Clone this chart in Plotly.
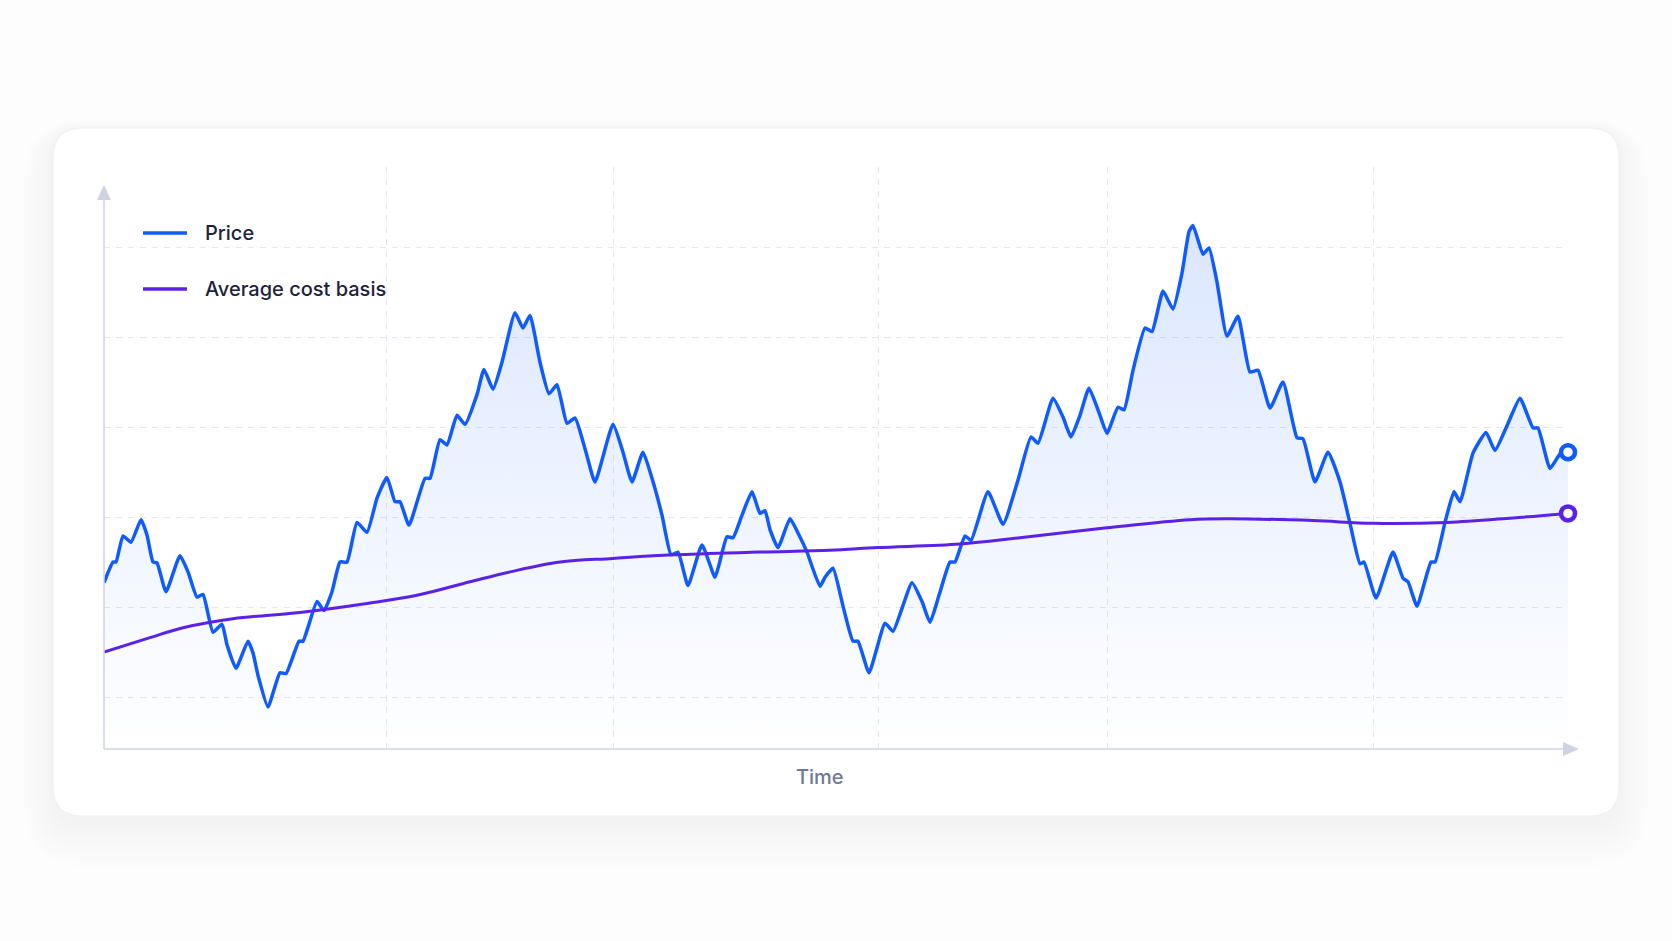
import plotly.graph_objects as go

# price path (day of year, price)
days = [0, 2.25, 3, 4.75, 6.75, 9.25, 10.75, 12.25, 13.25, 15.5,
        19, 21, 23.25, 24.75, 27.25, 29.5, 30.75, 33, 36, 37.25,
        38.5, 41, 44, 45.5, 48.75, 49.75, 53.25, 55, 57, 59,
        60.75, 63.25, 65.75, 68.25, 70.75, 72.75, 74, 76.25, 80.25, 81.5,
        84, 85.75, 88.25, 90.25, 93.25, 95, 97.25, 99.5, 102.75, 104.75,
        106.5, 109, 111.25, 113.25, 115.75, 117.75, 120.5, 122.75, 127.25, 129.75,
        132, 134.75, 137, 139.5, 141.75, 143.5, 146, 149.5, 152.75, 153.75,
        155.75, 157.25, 159.5, 162, 164, 165.25, 166.5, 168.5, 171.5, 173.75,
        175.75, 179, 180.25, 182.25, 184.75, 187.25, 188.5, 191.25, 195.25, 197.25,
        202, 204.5, 206.5, 208.75, 211.5, 212.75, 215.25, 216.75, 221, 224.75,
        228.5, 231.75, 233.5, 237.25, 239.75, 241.75, 244, 246.25, 249, 250.75,
        253.5, 255, 257.25, 260.25, 262, 264.75, 267.25, 269.5, 271.25, 272.25,
        274.75, 276.25, 278.25, 280.75, 283.5, 286.5, 288.5, 291.5, 294.75, 298.25,
        299.75, 302.75, 306, 309, 311.5, 314, 315, 318, 322.25, 324.75,
        326, 328.25, 331.75, 332.75, 335.25, 337.5, 339, 342.25, 345.5, 347.75,
        351, 354, 357.25, 358.5, 361.5, 364, 366]

price = [22.7, 25.0, 25.0, 27.9, 27.2, 29.7, 28.0, 25.0, 24.9, 21.7,
         25.7, 23.9, 21.1, 21.4, 17.2, 18.1, 15.8, 13.2, 16.2, 14.9,
         12.4, 8.9, 12.7, 12.6, 16.2, 16.2, 20.6, 19.6, 21.7, 25.0,
         25.0, 29.4, 28.3, 32.1, 34.4, 31.7, 31.7, 29.1, 34.3, 34.3,
         38.6, 38.0, 41.3, 40.3, 43.6, 46.4, 44.2, 47.2, 52.7, 51.0,
         52.4, 47.2, 43.7, 44.7, 40.4, 41.0, 37.2, 33.9, 40.3, 37.2,
         33.9, 37.2, 34.3, 30.2, 25.8, 26.1, 22.4, 26.9, 23.3, 24.7,
         27.8, 27.7, 30.2, 32.8, 30.4, 30.7, 28.6, 26.6, 29.8, 28.0,
         26.1, 22.3, 23.3, 24.3, 20.1, 16.2, 16.2, 12.7, 18.2, 17.3,
         22.7, 20.6, 18.3, 21.3, 25.0, 25.0, 27.9, 27.4, 32.8, 29.2,
         34.1, 38.9, 38.2, 43.2, 41.1, 38.9, 41.3, 44.3, 41.3, 39.3,
         42.2, 41.9, 46.3, 51.0, 50.6, 55.1, 53.1, 57.1, 61.7, 62.4,
         59.2, 59.9, 56.1, 50.1, 52.3, 46.1, 46.3, 42.1, 45.0, 38.8,
         38.7, 33.9, 37.2, 33.9, 29.3, 24.8, 25.0, 21.0, 26.1, 23.2,
         22.8, 20.1, 25.0, 25.0, 29.4, 32.8, 31.7, 37.1, 39.4, 37.4,
         40.4, 43.2, 39.9, 39.9, 35.4, 37.0, 37.2]

basis_days = [0, 11.5, 19.75, 32.25, 49, 65.75, 78.25, 91.5, 101.5, 114,
              127.25, 142.25, 164, 181.5, 193.5, 214, 229, 250.75, 271.5, 281.5,
              302.25, 317.25, 335.75, 352.25, 366]
basis = [15.0, 16.6, 17.7, 18.7, 19.4, 20.4, 21.3, 22.8, 23.9, 25.0,
         25.4, 25.8, 26.1, 26.3, 26.6, 27.0, 27.7, 28.8, 29.7, 29.8,
         29.6, 29.3, 29.4, 29.9, 30.4]

grid_days = [70.5, 127.25, 193.5, 250.75, 317.25]
grid_prices = [10, 20, 30, 40, 50, 60]

BLUE = '#0F5BFF'
PURPLE = '#5B21E6'
AXIS = '#CDD3E1'
GRID = '#E4E7F0'
INK = '#1C2240'

W, H = 1672, 941
L, R, T, B = 104, 1568, 167, 749


def px(x):
    return (x - L) / (R - L)


def py(y):
    return (B - y) / (B - T)


def rounded_rect(x0, y0, x1, y1, r):
    pts = [
        ('M', x0 + r, y0), ('L', x1 - r, y0), ('Q', x1, y0, x1, y0 + r),
        ('L', x1, y1 - r), ('Q', x1, y1, x1 - r, y1), ('L', x0 + r, y1),
        ('Q', x0, y1, x0, y1 - r), ('L', x0, y0 + r), ('Q', x0, y0, x0 + r, y0),
    ]
    out = []
    for p in pts:
        cmd, vals = p[0], p[1:]
        coords = []
        for i in range(0, len(vals), 2):
            coords.append(f"{px(vals[i]):.5f},{py(vals[i + 1]):.5f}")
        out.append(cmd + ' ' + ' '.join(coords))
    return ' '.join(out) + ' Z'


def tri(points):
    return 'M ' + ' L '.join(f"{px(a):.5f},{py(b):.5f}" for a, b in points) + ' Z'


fig = go.Figure()

fig.add_trace(go.Scatter(
    x=days, y=price, mode='lines',
    line=dict(color=BLUE, width=3.5, shape='spline', smoothing=0.45),
    fill='tozeroy',
    fillgradient=dict(type='vertical', start=4.2, stop=62.4,
                      colorscale=[[0, 'rgba(15,91,255,0.0)'], [1, 'rgba(15,91,255,0.15)']]),
    showlegend=False, hoverinfo='skip'
))
fig.add_trace(go.Scatter(
    x=basis_days, y=basis, mode='lines',
    line=dict(color=PURPLE, width=3, shape='spline'),
    showlegend=False, hoverinfo='skip'
))
# end markers
for xs, ys, c in [(days, price, BLUE), (basis_days, basis, PURPLE)]:
    fig.add_trace(go.Scatter(
        x=[xs[-1]], y=[ys[-1]], mode='markers',
        marker=dict(size=14, color='white', line=dict(color=c, width=4.5)),
        cliponaxis=False, showlegend=False, hoverinfo='skip'
    ))

shapes = []
# soft card shadow, growing downward
for i in range(1, 11):
    e = i * 3
    shapes.append(dict(type='path', xref='paper', yref='paper', layer='below',
                       path=rounded_rect(53 - e, 128 - e + 4 + e * 0.6, 1619 + e, 816 + e + 4 + e * 0.6, 30 + e),
                       fillcolor='rgba(40,50,90,0.004)', line=dict(width=0)))
shapes.append(dict(type='path', xref='paper', yref='paper', layer='below',
                   path=rounded_rect(53, 128, 1619, 816, 30),
                   fillcolor='white', line=dict(color='#EEF0F5', width=1)))
# axes with arrows
shapes.append(dict(type='line', xref='paper', yref='paper', x0=px(104), x1=px(104),
                   y0=py(749), y1=py(199), line=dict(color=AXIS, width=1.5)))
shapes.append(dict(type='line', xref='paper', yref='paper', x0=px(104), x1=px(1564),
                   y0=py(749), y1=py(749), line=dict(color=AXIS, width=1.5)))
shapes.append(dict(type='path', xref='paper', yref='paper',
                   path=tri([(104, 185), (97, 200), (111, 200)]),
                   fillcolor=AXIS, line=dict(width=0)))
shapes.append(dict(type='path', xref='paper', yref='paper',
                   path=tri([(1579, 749), (1563, 742), (1563, 756)]),
                   fillcolor=AXIS, line=dict(width=0)))
# legend swatches
for yy, c in [(233, BLUE), (289, PURPLE)]:
    shapes.append(dict(type='line', xref='paper', yref='paper', x0=px(143), x1=px(187),
                       y0=py(yy), y1=py(yy), line=dict(color=c, width=3.5)))

annotations = [
    dict(text='Price', x=px(203), y=py(233)),
    dict(text='Average cost basis', x=px(203), y=py(289)),
]
for a in annotations:
    a.update(xref='paper', yref='paper', xanchor='left', yanchor='middle',
             showarrow=False, font=dict(family='Inter', size=20, color=INK, weight=500))
annotations.append(dict(text='Time', x=px(820), y=py(777), xref='paper', yref='paper',
                        xanchor='center', yanchor='middle', showarrow=False,
                        font=dict(family='Inter', size=20, color='#6F7898', weight=500)))

fig.update_layout(
    width=W, height=H,
    margin=dict(l=L, r=W - R, t=T, b=H - B),
    paper_bgcolor='#FDFDFE', plot_bgcolor='rgba(0,0,0,0)',
    font=dict(family='Inter'),
    xaxis=dict(range=[0, 366], tickvals=grid_days, showticklabels=False, ticks='',
               showgrid=True, gridcolor=GRID, gridwidth=1, griddash='6px,6px',
               zeroline=False, showline=False, fixedrange=True),
    yaxis=dict(range=[4.222, 68.89], tickvals=grid_prices, showticklabels=False, ticks='',
               showgrid=True, gridcolor=GRID, gridwidth=1, griddash='6px,6px',
               zeroline=False, showline=False, fixedrange=True),
    shapes=shapes, annotations=annotations,
)

fig.write_html("out.html", config=dict(displayModeBar=False),
               post_script="document.body.style.margin='0';")
